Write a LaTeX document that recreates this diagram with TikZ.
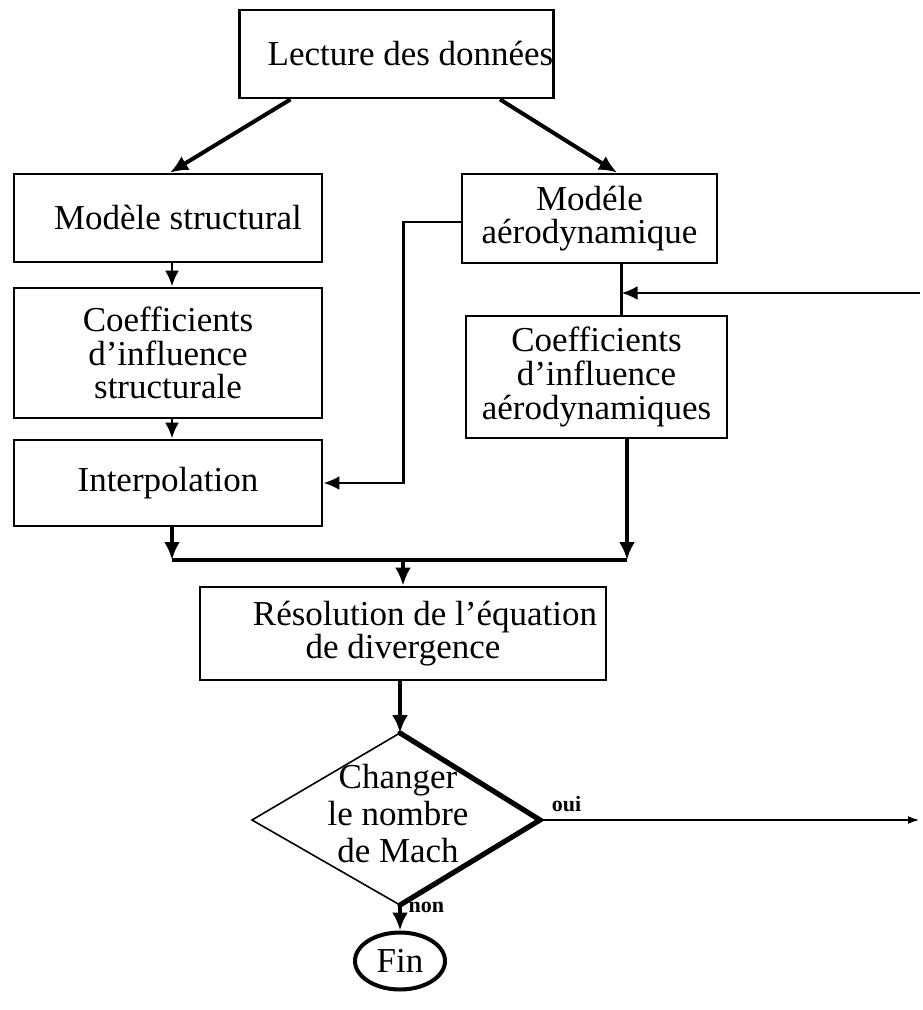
\documentclass[tikz,border=0pt]{standalone}
\usepackage{fontspec}
\setmainfont{Liberation Serif}
\usetikzlibrary{arrows.meta,shapes.geometric}
\begin{document}
\begin{tikzpicture}[x=0.5pt,y=-0.5pt,
  box/.style={draw,line width=1.4pt,rectangle,inner sep=0pt,align=center,
    font=\fontsize{17.5}{16.8}\selectfont},
  flow/.style={line width=2pt,-{Latex[length=9pt,width=8pt]}},
  flowthin/.style={line width=1.4pt,-{Latex[length=8pt,width=7pt]}},
  plain/.style={line width=1.4pt},
  lbl/.style={font=\fontsize{11}{12}\selectfont\bfseries}]
\useasboundingbox (0,0) rectangle (922,1010);

\node[box,minimum width=156.5pt,minimum height=44pt] (lect) at (396.5,54) {\hspace*{14pt}Lecture des données};
\node[box,minimum width=154pt,minimum height=44pt] (mstr) at (168,218) {\hspace*{10pt}Modèle structural};
\node[box,minimum width=127.5pt,minimum height=44.5pt] (maero) at (589.5,218.5) {Modéle\\aérodynamique};
\node[box,minimum width=154pt,minimum height=65pt] (cstr) at (168,353) {Coefficients\\d'influence\\structurale};
\node[box,minimum width=130.5pt,minimum height=61pt] (caero) at (596.5,377) {Coefficients\\d'influence\\aérodynamiques};
\node[box,minimum width=154pt,minimum height=43pt] (interp) at (168,483) {Interpolation};
\node[box,minimum width=203pt,minimum height=46.5pt] (reso) at (403,633.5) {\hspace*{22pt}Résolution de l'équation\\de divergence};

% decision
\coordinate (dn) at (400,733);
\coordinate (dw) at (252,820);
\coordinate (de) at (540,820);
\coordinate (ds) at (400,905);
\node[align=center,inner sep=0pt,font=\fontsize{17.5}{18.5}\selectfont] (dia) at (398,814) {Changer\\le nombre\\de Mach};
\draw[line width=0.8pt,line join=miter] (dn) -- (dw) -- (ds);
\draw[line width=2.6pt,line cap=round,line join=miter] (dn) -- (de) -- (ds);
\node[ellipse,draw,line width=2pt,minimum width=45pt,minimum height=28.5pt,inner sep=0pt,
  font=\fontsize{17.5}{18}\selectfont] (fin) at (400,961) {Fin};

\coordinate (fb) at (920,293);
\coordinate (out) at (920,820);
\coordinate (bus) at (403,560);

% top diagonals
\draw[flow] ([xshift=-53pt]lect.south) -- ([xshift=1pt]mstr.north);
\draw[flow] ([xshift=51.75pt]lect.south) -- ([xshift=13.75pt]maero.north);
% left column
\draw[flowthin] ([xshift=2pt]mstr.south) -- ([xshift=2pt]cstr.north);
\draw[flowthin] ([xshift=2pt]cstr.south) -- ([xshift=2pt]interp.north);
% aero to interpolation
\draw[flowthin] ([yshift=-1.75pt]maero.west) -- ++(-57,0) |- (interp.east);
% aero model to coefficients
\draw[plain] ([xshift=16pt]maero.south) -- ([xshift=16pt]maero.south |- caero.north);
\draw[flowthin] (fb) -- ([xshift=16pt]maero.south |- fb);
% merge
\draw[flow] ([xshift=2pt]interp.south) -- ([xshift=2pt]interp.south |- bus);
\draw[flow] ([xshift=15.25pt]caero.south) -- ([xshift=15.25pt]caero.south |- bus);
\draw[line width=2pt] ([xshift=2pt]interp.south |- bus) -- ([xshift=15.25pt]caero.south |- bus);
\draw[flow] (bus) -- (reso.north);
% to decision
\draw[flow] (reso.south -| dn) -- (dn);
\draw[flow] (ds) -- node[lbl,right,pos=0.1]{non} (fin.north);
\draw[line width=1.4pt,-{Latex[length=6pt,width=4pt,open]}] (de) -- node[lbl,above,pos=0.07]{oui} (out);
\end{tikzpicture}
\end{document}
